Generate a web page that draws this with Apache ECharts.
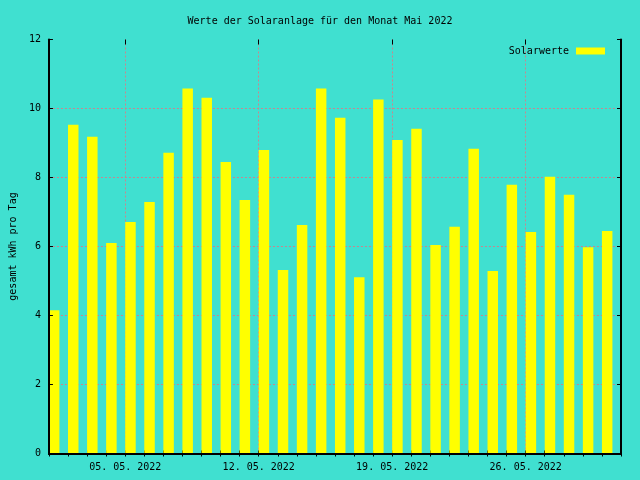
<!DOCTYPE html>
<html>
<head>
<meta charset="utf-8">
<script src="https://cdn.jsdelivr.net/npm/echarts@6/dist/echarts.min.js"></script>
<style>html,body{margin:0;padding:0;background:#40e0d0;}#c{width:640px;height:480px;}</style>
</head>
<body>
<div id="c"></div>
<script>
var days = ['01. 05. 2022','02. 05. 2022','03. 05. 2022','04. 05. 2022','05. 05. 2022','06. 05. 2022','07. 05. 2022','08. 05. 2022','09. 05. 2022','10. 05. 2022',
            '11. 05. 2022','12. 05. 2022','13. 05. 2022','14. 05. 2022','15. 05. 2022','16. 05. 2022','17. 05. 2022','18. 05. 2022','19. 05. 2022','20. 05. 2022',
            '21. 05. 2022','22. 05. 2022','23. 05. 2022','24. 05. 2022','25. 05. 2022','26. 05. 2022','27. 05. 2022','28. 05. 2022','29. 05. 2022','30. 05. 2022'];
var solarwerte = [4.15, 9.53, 9.18, 6.10, 6.71, 7.29, 8.72, 10.58, 10.31, 8.45,
                  7.35, 8.80, 5.32, 6.62, 10.58, 9.73, 5.11, 10.26, 9.09, 9.41,
                  6.04, 6.57, 8.83, 5.29, 7.79, 6.42, 8.02, 7.50, 5.98, 6.45];
var labeledDays = ['05. 05. 2022','12. 05. 2022','19. 05. 2022','26. 05. 2022'];
var yTicks = {min: 0, max: 12, interval: 2};

var FONT = 'DejaVu Sans Mono';
function isMajor(i, v){ return labeledDays.indexOf(days[i]) >= 0; }
var gridCol = '#c8868e';
var BOX_FRACTION = 0.55; // box width as a fraction of one day, left-aligned at day start

var seriesData = days.map(function (d, i) { return [d, solarwerte[i]]; });

var chart = echarts.init(document.getElementById('c'), null, {renderer: 'canvas'});
chart.setOption({
  backgroundColor: '#40e0d0',
  animation: false,
  title: {
    text: 'Werte der Solaranlage für den Monat Mai 2022',
    left: 'center', top: 11,
    textStyle: {fontFamily: FONT, fontSize: 10, fontWeight: 'normal', color: '#000'}
  },
  legend: {
    data: [{name: 'Solarwerte', icon: 'rect', itemStyle: {color: '#ffff00'}}],
    right: 30, top: 41, align: 'right',
    itemWidth: 29, itemHeight: 7, itemGap: 6,
    textStyle: {fontFamily: FONT, fontSize: 10, color: '#000', padding: [0, 2, 0, 0]}
  },
  grid: {left: 47, right: 19, top: 39.5, bottom: 26.5, containLabel: false},
  xAxis: [
    {type: 'category', data: days, position: 'bottom', boundaryGap: true,
     axisLine: {show: false},
     axisTick: {show: true, inside: true, length: 3, interval: 0, lineStyle: {color: '#000'}},
     axisLabel: {interval: isMajor, fontFamily: FONT, fontSize: 10, color: '#000', margin: 9, padding: [0, 19, 0, 0]},
     splitLine: {show: true, interval: isMajor, lineStyle: {color: gridCol, type: [2, 2], width: 1}}
    },
    {type: 'category', data: days, position: 'bottom', boundaryGap: true, z: 5,
     axisLine: {show: true, lineStyle: {color: '#000', width: 2}},
     axisTick: {show: false}, axisLabel: {show: false}, splitLine: {show: false}},
    {type: 'category', data: days, position: 'top', boundaryGap: true, z: 5,
     axisLine: {show: true, lineStyle: {color: '#000', width: 2}},
     axisTick: {show: true, inside: true, length: 3, interval: 0, lineStyle: {color: '#000'}},
     axisLabel: {show: false}, splitLine: {show: false}},
    {type: 'category', data: days, position: 'top', boundaryGap: true, z: 5,
     axisLine: {show: false},
     axisTick: {show: true, inside: true, length: 5, interval: isMajor, lineStyle: {color: '#000'}},
     axisLabel: {show: false}, splitLine: {show: false}}
  ],
  yAxis: [
    {type: 'value', min: yTicks.min, max: yTicks.max, interval: yTicks.interval, position: 'left',
     name: 'gesamt kWh pro Tag', nameLocation: 'middle', nameGap: 28, nameRotate: 90,
     nameTextStyle: {fontFamily: FONT, fontSize: 10, color: '#000'},
     axisLine: {show: false}, axisTick: {show: false},
     axisLabel: {fontFamily: FONT, fontSize: 10, color: '#000', margin: 8},
     splitLine: {show: true, showMinLine: false, showMaxLine: false, lineStyle: {color: gridCol, type: [2, 2], width: 1}}},
    {type: 'value', min: yTicks.min, max: yTicks.max, interval: yTicks.interval, position: 'left', z: 5,
     axisLine: {show: true, lineStyle: {color: '#000', width: 2}},
     axisTick: {show: true, inside: true, length: 4, lineStyle: {color: '#000'}},
     axisLabel: {show: false}, splitLine: {show: false}},
    {type: 'value', min: yTicks.min, max: yTicks.max, interval: yTicks.interval, position: 'right', z: 5,
     axisLine: {show: true, lineStyle: {color: '#000', width: 2}},
     axisTick: {show: true, inside: true, length: 4, lineStyle: {color: '#000'}},
     axisLabel: {show: false}, splitLine: {show: false}}
  ],
  series: [
    {name: 'Solarwerte', type: 'custom', data: seriesData, xAxisIndex: 0, yAxisIndex: 0,
     itemStyle: {color: '#ffff00'},
     encode: {x: 0, y: 1},
     renderItem: function (params, api) {
       var top = api.coord([api.value(0), api.value(1)]);
       var base = api.coord([api.value(0), 0]);
       var band = api.size([1, 0])[0];
       var x0 = top[0] - band / 2;
       return {
         type: 'rect',
         shape: {x: x0, y: top[1], width: band * BOX_FRACTION, height: base[1] - top[1]},
         style: {fill: '#ffff00'}
       };
     }
    }
  ]
});
</script>
</body>
</html>
